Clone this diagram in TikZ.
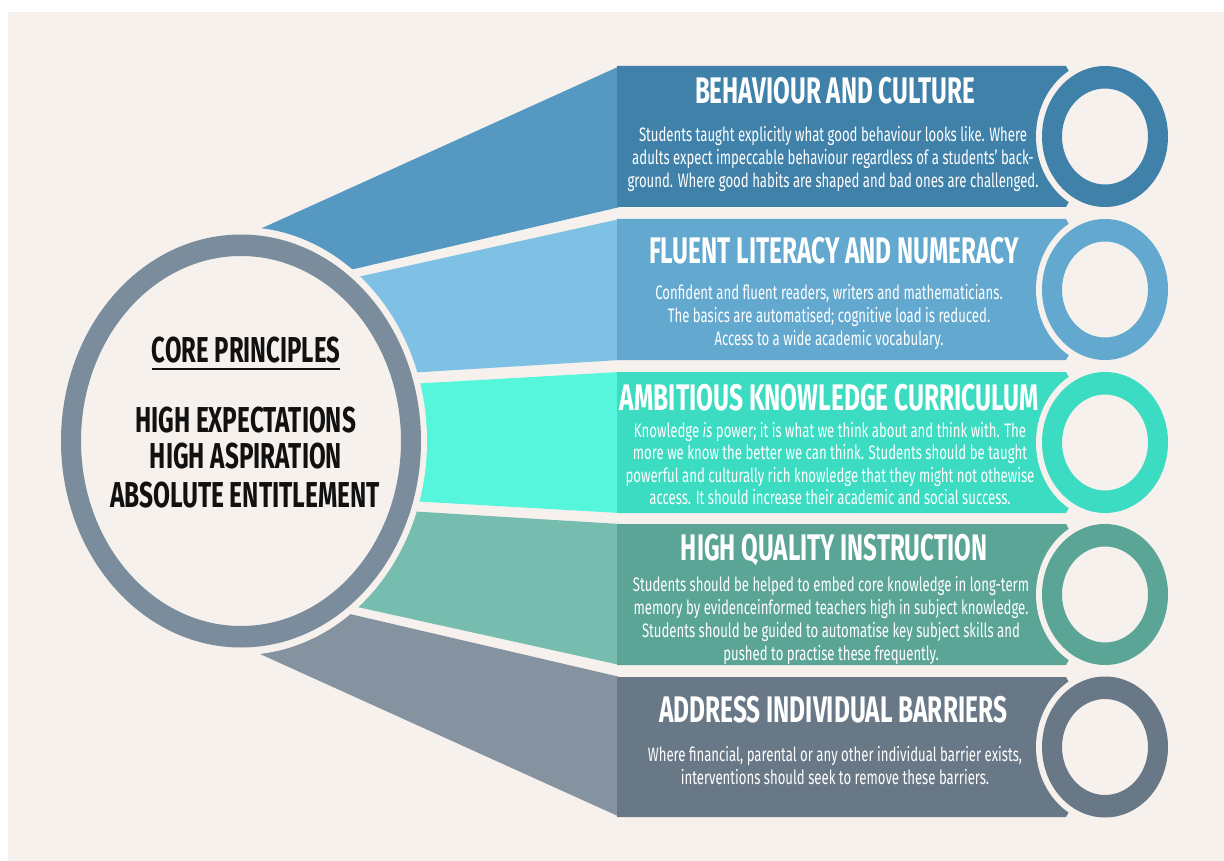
\documentclass[tikz,border=0pt]{standalone}
\usepackage{fontspec}
\usepackage{graphicx}
\setmainfont{Fira Sans}
\newfontfamily\bodyfont{Fira Sans}[FakeStretch=0.675]
\usetikzlibrary{calc}
\definecolor{bgc}{HTML}{F6F1ED}
\definecolor{ringc}{HTML}{7B8C9D}
\definecolor{lA}{HTML}{5599C3}\definecolor{dA}{HTML}{4081AA}
\definecolor{lB}{HTML}{7FC1E5}\definecolor{dB}{HTML}{62A8CF}
\definecolor{lC}{HTML}{55F6DC}\definecolor{dC}{HTML}{3BDCC2}
\definecolor{lD}{HTML}{77BDAF}\definecolor{dD}{HTML}{5BA596}
\definecolor{lE}{HTML}{85929F}\definecolor{dE}{HTML}{687887}
\definecolor{inkc}{HTML}{111111}
\newcommand\fitto[2]{\resizebox{#1pt}{\height}{#2}}
% light colour, dark colour, top y, bottom y, top y at x=150, bottom y at x=150, centre y
\newcommand\bandfan[7]{%
  \fill[#1] (150,#5) -- (620,#3) -- (620,#4) -- (150,#6) -- cycle;
  \fill[#2] (617,#3) -- (1066,#3) -- (1105,#7) -- (1066,#4) -- (617,#4) -- cycle;
  \fill[bgc] (1105,#7) ellipse [x radius=69pt, y radius=77pt];
  \fill[#2, even odd rule] (1105,#7) ellipse [x radius=63pt, y radius=70.5pt]
                           (1105,#7) ellipse [x radius=43pt, y radius=48pt];
}
\tikzset{
  headtxt/.style={anchor=base, inner sep=0pt, text=white, font=\fontsize{37}{40}\selectfont\bfseries},
  bodytxt/.style={anchor=north, inner sep=0pt, text=white, align=center,
                  font=\bodyfont\fontsize{19.5}{23}\selectfont},
  coretxt/.style={anchor=base, inner sep=0pt, text=inkc, font=\fontsize{36}{40}\selectfont\bfseries}
}
\begin{document}
\begin{tikzpicture}[x=1pt, y=-1pt]
\useasboundingbox (0,0) rectangle (1224,861);
\fill[white] (0,0) rectangle (1224,861);
\fill[bgc] (8,12) rectangle (1224,861);

% bands
\bandfan{lA}{dA}{66}{207}{278.8}{316.6}{136.5}
\bandfan{lB}{dB}{219}{360}{322.8}{388.7}{289.5}
\bandfan{lC}{dC}{372}{513}{398.8}{486.2}{442.5}
\bandfan{lD}{dD}{524}{665}{495.3}{561.2}{594.5}
\bandfan{lE}{dE}{677}{817}{567.4}{604.2}{747}

% central circle
\fill[bgc] (241,441) ellipse [x radius=186pt, y radius=214pt];
\fill[ringc, even odd rule] (241,441) ellipse [x radius=180pt, y radius=206.5pt]
                            (241,441) ellipse [x radius=160pt, y radius=185pt];

\node[coretxt] (core) at (246,362) {\fitto{188}{CORE PRINCIPLES}};
\draw[inkc, line width=1.5pt] ($(core.base west)+(0,7)$) -- ($(core.base east)+(0,7)$);
\node[coretxt] (hexp) at (245.5,432) {\fitto{221}{HIGH EXPECTATIONS}};
\node[coretxt] (hasp) at (246,468) {\fitto{192}{HIGH ASPIRATION}};
\node[coretxt] (aent) at (245,507) {\fitto{270}{ABSOLUTE ENTITLEMENT}};

% band texts
\node[headtxt] (h1) at (835,104) {\fitto{280}{BEHAVIOUR AND CULTURE}};
\node[bodytxt] (b1) at (833,126) {Students taught explicitly what good behaviour looks like. Where\\
adults expect impeccable behaviour regardless of a students’ back-\\
ground. Where good habits are shaped and bad ones are challenged.};

\node[headtxt] (h2) at (834,264) {\fitto{370}{FLUENT LITERACY AND NUMERACY}};
\node[bodytxt] (b2) at (829,284) {Confident and fluent readers, writers and mathematicians.\\
The basics are automatised; cognitive load is reduced.\\
Access to a wide academic vocabulary.};

\node[headtxt] (h3) at (829.5,410) {\fitto{419}{AMBITIOUS KNOWLEDGE CURRICULUM}};
\node[bodytxt, font=\bodyfont\fontsize{19.5}{22.5}\selectfont] (b3) at (830,422) {Knowledge \textit{is} power; it is what we think about and think with. The\\
more we know the better we can think. Students should be taught\\
powerful and culturally rich knowledge that they might not othewise\\
access. It should increase their academic and social success.};

\node[headtxt] (h4) at (834,560) {\fitto{306}{HIGH QUALITY INSTRUCTION}};
\node[bodytxt] (b4) at (831,576) {Students should be helped to embed core knowledge in long-term\\
memory by evidenceinformed teachers high in subject knowledge.\\
Students should be guided to automatise key subject skills and\\
pushed to practise these frequently.};

\node[headtxt] (h5) at (833,722) {\fitto{348}{ADDRESS INDIVIDUAL BARRIERS}};
\node[bodytxt] (b5) at (835,746) {Where financial, parental or any other individual barrier exists,\\
interventions should seek to remove these barriers.};
\end{tikzpicture}
\end{document}
